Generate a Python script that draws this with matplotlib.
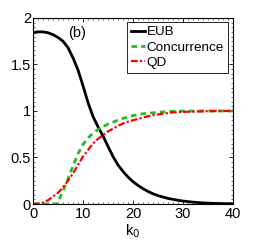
import matplotlib
matplotlib.use("Agg")
import matplotlib.pyplot as plt
from matplotlib.ticker import MultipleLocator

plt.rcParams['font.family'] = ['Liberation Sans', 'DejaVu Sans']

k_eub = [0, 1, 2, 3, 4, 5, 6, 7, 8, 9, 10, 11, 12, 13, 14, 15, 16, 17, 18, 19, 20,
         21, 22, 23, 24, 25, 26, 27, 28, 29, 30, 32, 34, 36, 38, 40]
eub = [1.84, 1.85, 1.85, 1.84, 1.82, 1.79, 1.75, 1.68, 1.57, 1.44, 1.27, 1.09, 0.94,
       0.83, 0.73, 0.62, 0.51, 0.42, 0.35, 0.29, 0.24, 0.20, 0.165, 0.135, 0.11,
       0.09, 0.075, 0.06, 0.05, 0.04, 0.032, 0.02, 0.012, 0.007, 0.004, 0.003]

k_con = [0, 4.7, 5, 6, 7, 8, 9, 10, 11, 12, 13, 14, 15, 16, 17, 18, 19, 20, 22, 24,
         26, 28, 30, 35, 40]
concurrence = [0, 0, 0.02, 0.14, 0.27, 0.41, 0.54, 0.64, 0.71, 0.76, 0.80, 0.83, 0.86,
               0.88, 0.90, 0.92, 0.935, 0.95, 0.97, 0.98, 0.99, 0.995, 0.998, 1.0, 1.0]

k_qd = [0, 1, 2, 3, 4, 5, 6, 7, 8, 9, 10, 11, 12, 13, 14, 15, 16, 17, 18, 19, 20,
        22, 24, 26, 28, 30, 35, 40]
qd = [0, 0.005, 0.015, 0.04, 0.08, 0.12, 0.18, 0.25, 0.33, 0.42, 0.51, 0.58, 0.65,
      0.70, 0.74, 0.78, 0.81, 0.84, 0.865, 0.885, 0.90, 0.93, 0.955, 0.97, 0.985,
      0.99, 0.998, 1.0]

xticks = [0, 10, 20, 30, 40]
xticklabels = ["0", "10", "20", "30", "40"]
yticks = [0, 0.5, 1, 1.5, 2]
yticklabels = ["0", "0.5", "1", "1.5", "2"]

fig = plt.figure(figsize=(2.58, 2.42), dpi=100)
ax = fig.add_axes([0.128, 0.157, 0.775, 0.769])

ax.plot(k_eub, eub, color='black', lw=2.0, label='EUB')
ax.plot(k_con, concurrence, color='#22bb22', lw=2.0, ls=(0, (2, 1.5)), label='Concurrence')
ax.plot(k_qd, qd, color='red', lw=1.6, ls=(0, (3, 1, 1, 1)), label='QD')

ax.set_xlim(0, 40)
ax.set_ylim(0, 2)
ax.set_xticks(xticks)
ax.set_xticklabels(xticklabels)
ax.set_yticks(yticks)
ax.set_yticklabels(yticklabels)
ax.xaxis.set_minor_locator(MultipleLocator(1))
ax.yaxis.set_minor_locator(MultipleLocator(0.05))
ax.tick_params(which='both', direction='in', top=True, right=True, labelsize=10.5)
ax.tick_params(axis='x', which='both', pad=2.5)
ax.tick_params(axis='y', which='both', pad=1.5)
ax.tick_params(which='major', length=3, width=0.6)
ax.tick_params(which='minor', length=1.5, width=0.4)
for s in ax.spines.values():
    s.set_linewidth(0.8)

ax.set_xlabel('k$_0$', fontsize=10.5, labelpad=0.5)
ax.text(8.8, 1.84, '(b)', fontsize=10.5, ha='center', va='center')

leg = ax.legend(loc='upper right', bbox_to_anchor=(0.975, 0.978), fontsize=9.7,
                frameon=True, fancybox=False, edgecolor='black', framealpha=1,
                handlelength=1.0, handletextpad=0.15, borderpad=0.3, labelspacing=0.2,
                borderaxespad=0)
leg.get_frame().set_linewidth(0.6)

fig.savefig('out.png', dpi=100)
